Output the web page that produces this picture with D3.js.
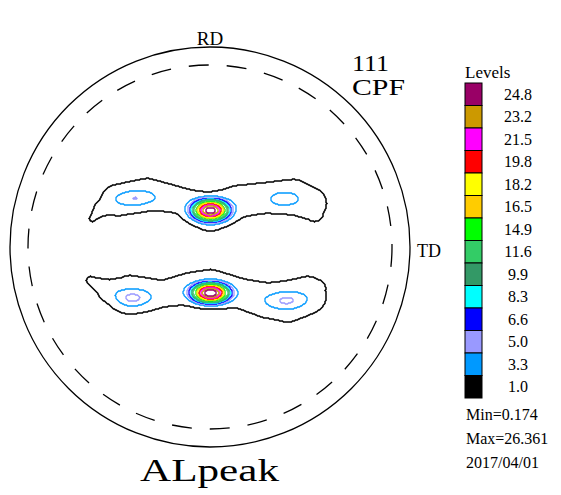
<!DOCTYPE html>
<html>
<head>
<meta charset="utf-8">
<script src="https://cdn.jsdelivr.net/npm/d3@7"></script>
<style>
  body { margin: 0; background: #fff; }
  svg { display: block; }
  text { font-family: "Liberation Serif", "Times New Roman", serif; fill: #000; }
</style>
</head>
<body>
<script>
// contour levels and their colours (legend top to bottom is reversed)
var levels = [1.0, 3.3, 5.0, 6.6, 8.3, 9.9, 11.6, 14.9, 16.5, 18.2, 19.8, 21.5, 23.2, 24.8];
var levelColors = ["#000000", "#0099ff", "#9999ff", "#0000ff", "#00ffff", "#339966", "#33cc66",
                   "#00ff00", "#ffcc00", "#ffff00", "#ff0000", "#ff00ff", "#cc9900", "#990066"];

// band ridges in pole figure units (radius = 1): [x, y, half width]
var ridgeLevel = 2.2;
var upperBand = [[-0.59, 0.145, 0.015], [-0.55, 0.19, 0.035], [-0.465, 0.235, 0.075], [-0.315, 0.27, 0.075],
                 [-0.15, 0.235, 0.065], [0, 0.175, 0.09], [0.135, 0.23, 0.08], [0.285, 0.25, 0.075],
                 [0.415, 0.255, 0.085], [0.5, 0.22, 0.08], [0.52, 0.175, 0.045]];
var lowerBand = [[-0.6, -0.165, 0.02], [-0.515, -0.21, 0.05], [-0.4, -0.23, 0.09], [-0.235, -0.23, 0.065],
                 [-0.1, -0.205, 0.08], [0, -0.2, 0.09], [0.15, -0.23, 0.075], [0.285, -0.265, 0.085],
                 [0.385, -0.27, 0.1], [0.485, -0.235, 0.09], [0.53, -0.205, 0.045]];

// intensity peaks: [x, y, sigma x, sigma y, height, shape exponent]
var peaks = [[-0.375, 0.245, 0.0725, 0.031, 2.85, 2],
             [0.37, 0.24, 0.0575, 0.031, 2.3, 2],
             [-0.39, -0.255, 0.065, 0.0335, 3.4, 2],
             [0.38, -0.265, 0.075, 0.035, 3.1, 2],
             [0, 0.186, 0.066, 0.0385, 23.5, 2.6],
             [0, -0.2275, 0.068, 0.036, 24.1, 2.6]];

var figTitle = ["111", "CPF"];
var stats = ["Min=0.174", "Max=26.361", "2017/04/01"];
var sample = "ALpeak";

var width = 561, height = 495;
var cx = 210, cy = 247, R = 200;

var svg = d3.select("body").append("svg")
    .attr("width", width)
    .attr("height", height);

var x = d3.scaleLinear().domain([-1, 1]).range([cx - R, cx + R]);
var y = d3.scaleLinear().domain([-1, 1]).range([cy + R, cy - R]);

function ridgeValue(band, x0, y0) {
  var best = 0;
  for (var k = 0; k < band.length - 1; k++) {
    var a = band[k], b = band[k + 1];
    var dx = b[0] - a[0], dy = b[1] - a[1];
    var t = ((x0 - a[0]) * dx + (y0 - a[1]) * dy) / (dx * dx + dy * dy);
    t = Math.max(0, Math.min(1, t));
    var px = a[0] + t * dx, py = a[1] + t * dy;
    var w = a[2] + t * (b[2] - a[2]);
    var d2 = ((x0 - px) * (x0 - px) + (y0 - py) * (y0 - py)) / (w * w);
    var v = Math.pow(ridgeLevel, 1 - d2);
    if (v > best) best = v;
  }
  return best;
}

function field(x0, y0) {
  var v = Math.max(ridgeValue(upperBand, x0, y0), ridgeValue(lowerBand, x0, y0));
  peaks.forEach(function(p) {
    var ux = (x0 - p[0]) / p[2], uy = (y0 - p[1]) / p[3];
    v += p[4] * Math.exp(-0.5 * Math.pow(ux * ux + uy * uy, p[5] / 2));
  });
  return v;
}

// sample grid
var step = 0.005, gx0 = -0.8, gy1 = 0.55;
var nx = 321, ny = 221;
var values = new Array(nx * ny);
for (var j = 0; j < ny; j++) {
  for (var i = 0; i < nx; i++) {
    values[j * nx + i] = field(gx0 + i * step, gy1 - j * step);
  }
}

var contours = d3.contours().size([nx, ny]).smooth(false).thresholds(levels)(values);

var path = d3.geoPath(d3.geoTransform({
  point: function(px, py) { this.stream.point(x(gx0 + px * step), y(gy1 - py * step)); }
}));

// circles
svg.append("circle")
  .attr("cx", x(0)).attr("cy", y(0)).attr("r", x(1) - x(0))
  .attr("fill", "none").attr("stroke", "#000").attr("stroke-width", 1.3);

svg.append("circle")
  .attr("cx", x(0)).attr("cy", y(0)).attr("r", x(0.91) - x(0))
  .attr("fill", "none").attr("stroke", "#000").attr("stroke-width", 1.3)
  .attr("stroke-dasharray", "20,18");

svg.append("g").selectAll("path")
  .data(contours)
  .enter().append("path")
    .attr("d", path)
    .attr("fill", "none")
    .attr("stroke", function(d, i) { return levelColors[i]; })
    .attr("stroke-width", function(d, i) { return i == 0 ? 1.5 : 1.3; });

// axis labels
svg.append("text").attr("x", x(0)).attr("y", 45).attr("text-anchor", "middle")
  .style("font-size", "19px").text("RD");
svg.append("text").attr("x", x(1) + 7).attr("y", 257)
  .style("font-size", "18px").text("TD");

svg.append("text").attr("x", 352).attr("y", 71).style("font-size", "23px")
  .attr("textLength", 37).attr("lengthAdjust", "spacingAndGlyphs").text(figTitle[0]);
svg.append("text").attr("x", 352).attr("y", 95).style("font-size", "23px")
  .attr("textLength", 53).attr("lengthAdjust", "spacingAndGlyphs").text(figTitle[1]);

// legend
var boxH = 22.5, boxTop = 83;
svg.append("text").attr("x", 465).attr("y", 78).style("font-size", "17px").text("Levels");

var legend = svg.append("g").selectAll("g")
  .data(levels.slice().reverse())
  .enter().append("g");

legend.append("rect")
  .attr("x", 465)
  .attr("y", function(d, i) { return boxTop + i * boxH; })
  .attr("width", 17)
  .attr("height", boxH)
  .attr("fill", function(d, i) { return levelColors[levels.length - 1 - i]; })
  .attr("stroke", "#000").attr("stroke-width", 1);

legend.append("text")
  .attr("x", 518)
  .attr("y", function(d, i) { return boxTop + i * boxH + boxH / 2 + 5.5; })
  .attr("text-anchor", "middle")
  .style("font-size", "16px")
  .text(function(d) { return d.toFixed(1); });

svg.append("g").selectAll("text")
  .data(stats)
  .enter().append("text")
    .attr("x", 466)
    .attr("y", function(d, i) { return 420 + i * 24; })
    .style("font-size", "16px")
    .text(function(d) { return d; });

svg.append("text").attr("x", 140).attr("y", 481).style("font-size", "32px")
  .attr("textLength", 139).attr("lengthAdjust", "spacingAndGlyphs").text(sample);
</script>
</body>
</html>
